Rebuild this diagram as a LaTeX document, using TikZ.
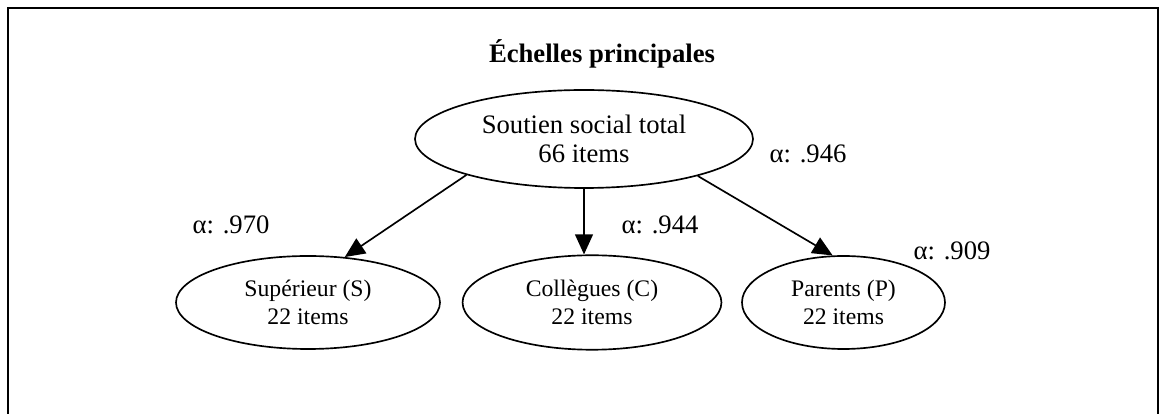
\documentclass[tikz,border=0pt]{standalone}
\usepackage{fontspec}
\setmainfont{Liberation Serif}
\usetikzlibrary{shapes.geometric,arrows.meta}
\begin{document}
\begin{tikzpicture}[x=0.45pt,y=-0.45pt,
  bubble/.style={draw,ellipse,line width=0.75pt,inner sep=0pt,align=center},
  bigtext/.style={font=\fontsize{12}{13}\selectfont},
  smalltext/.style={font=\fontsize{10.67}{12.4}\selectfont},
  link/.style={line width=0.75pt,-{Triangle[length=9pt,width=8pt]}},
  alphalabel/.style={bigtext,inner sep=0pt}]
\useasboundingbox (0,0) rectangle (1159,414);
% open frame around the scheme
\draw[line width=1.1pt] (8,430) -- (8,8) -- (1158,8) -- (1158,430);

\node[font=\bfseries\fontsize{12}{14}\selectfont,anchor=base] (title) at (602,63) {Échelles principales};

\node[bubble,bigtext,minimum width=152.1pt,minimum height=44.1pt] (total) at (584,139) {Soutien social total\\66 items};
\node[bubble,smalltext,minimum width=118.8pt,minimum height=41.85pt] (sup) at (308,302.5) {Supérieur (S)\\22 items};
\node[bubble,smalltext,minimum width=116.5pt,minimum height=42.5pt] (col) at (592,302.5) {Collègues (C)\\22 items};
\node[bubble,smalltext,minimum width=91.35pt,minimum height=41.85pt] (par) at (843.5,302.5) {Parents (P)\\22 items};

\draw[link] (total.197.5) -- (sup.51.2);
\draw[link] (total.south) -- (total.south |- col.north);
\draw[link] (total.342.8) -- (par.103.3);

\node[alphalabel] (a1) at (231,225) {α: .970};
\node[alphalabel] (a2) at (660,225) {α: .944};
\node[alphalabel] (a3) at (952,251) {α: .909};
\node[alphalabel] (a4) at (808,154) {α: .946};
\end{tikzpicture}
\end{document}
